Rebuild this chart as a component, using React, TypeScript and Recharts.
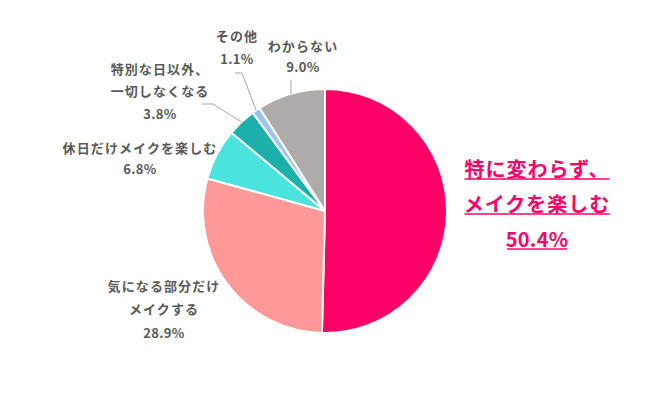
import { PieChart, Pie, Cell } from 'recharts';

// 回答カテゴリと割合(%)
const categories = [
  '特に変わらず、メイクを楽しむ',
  '気になる部分だけメイクする',
  '休日だけメイクを楽しむ',
  '特別な日以外、一切しなくなる',
  'その他',
  'わからない',
];
const values = [50.4, 28.9, 6.8, 3.8, 1.1, 9.0];
const labelTexts = [
  ['特に変わらず、', 'メイクを楽しむ'],
  ['気になる部分だけ', 'メイクする'],
  ['休日だけメイクを楽しむ'],
  ['特別な日以外、', '一切しなくなる'],
  ['その他'],
  ['わからない'],
];

const colors = ['#FF0066', '#FF9999', '#4BE3DD', '#1BB0A9', '#9DC3E6', '#AFABAB'];

// ラベル位置(円の中心からのずれ)と引き出し線の折れ点
const labelLayout = [
  { dx: 212, dy: -43, gap: 35, size: 20, color: '#FF0066', underline: [145, 145, 60] },
  { dx: -161, dy: 74, gap: 23.5, size: 13, color: '#595959' },
  { dx: -185, dy: -64, gap: 21, size: 13, color: '#595959' },
  { dx: -165, dy: -143, gap: 22.5, size: 13, color: '#595959', leader: [[-112, -107], [-123, -107]] },
  { dx: -88, dy: -176, gap: 23, size: 13, color: '#595959', leader: [[-83, -138], [-90, -138]] },
  { dx: -22, dy: -166, gap: 21, size: 13, color: '#595959', leader: [[-34, -131]] },
];

const chartData = categories.map((name, i) => ({
  name,
  value: values[i],
  lines: labelTexts[i],
}));

const RAD = Math.PI / 180;

const renderLabel = (props: any) => {
  const { cx, cy, midAngle, outerRadius, index, payload } = props;
  const cfg: any = labelLayout[index];
  const x = cx + cfg.dx;
  const lines: string[] = [...payload.lines, `${payload.value.toFixed(1)}%`];

  let leader = null;
  if (cfg.leader) {
    const sx = cx + outerRadius * Math.cos(-midAngle * RAD);
    const sy = cy + outerRadius * Math.sin(-midAngle * RAD);
    const pts = [[sx, sy], ...cfg.leader.map((p: number[]) => [cx + p[0], cy + p[1]])];
    leader = (
      <polyline
        points={pts.map((p) => p.join(',')).join(' ')}
        fill="none"
        stroke="#A6A6A6"
        strokeWidth={1}
      />
    );
  }

  return (
    <g key={`label-${index}`}>
      {leader}
      {lines.map((t, i) => {
        const y = cy + cfg.dy + i * cfg.gap;
        const isPct = i === lines.length - 1;
        return (
          <g key={i}>
            <text
              x={x}
              y={y}
              textAnchor="middle"
              dominantBaseline="central"
              fill={cfg.color}
              fontSize={cfg.size}
              fontWeight={700}
              letterSpacing={isPct ? 0.3 : cfg.size > 15 ? 1 : 1.1}
              fontFamily='"Noto Sans CJK JP", "Noto Sans", sans-serif'
            >
              {t}
            </text>
            {cfg.underline && (
              <line
                x1={x - cfg.underline[i] / 2}
                x2={x + cfg.underline[i] / 2}
                y1={y + 11}
                y2={y + 11}
                stroke={cfg.color}
                strokeWidth={1.5}
              />
            )}
          </g>
        );
      })}
    </g>
  );
};

export default function App() {
  return (
    <div style={{ position: 'absolute', left: 0, top: 0, background: '#fff' }}>
      <PieChart width={650} height={417} margin={{ top: 0, right: 0, bottom: 0, left: 0 }}>
        <Pie
          data={chartData}
          dataKey="value"
          nameKey="name"
          cx={325}
          cy={211}
          outerRadius={122}
          startAngle={90}
          endAngle={-270}
          stroke="#fff"
          strokeWidth={2}
          label={renderLabel}
          labelLine={false}
          isAnimationActive={false}
        >
          {chartData.map((d, i) => (
            <Cell key={d.name} fill={colors[i]} />
          ))}
        </Pie>
      </PieChart>
    </div>
  );
}
